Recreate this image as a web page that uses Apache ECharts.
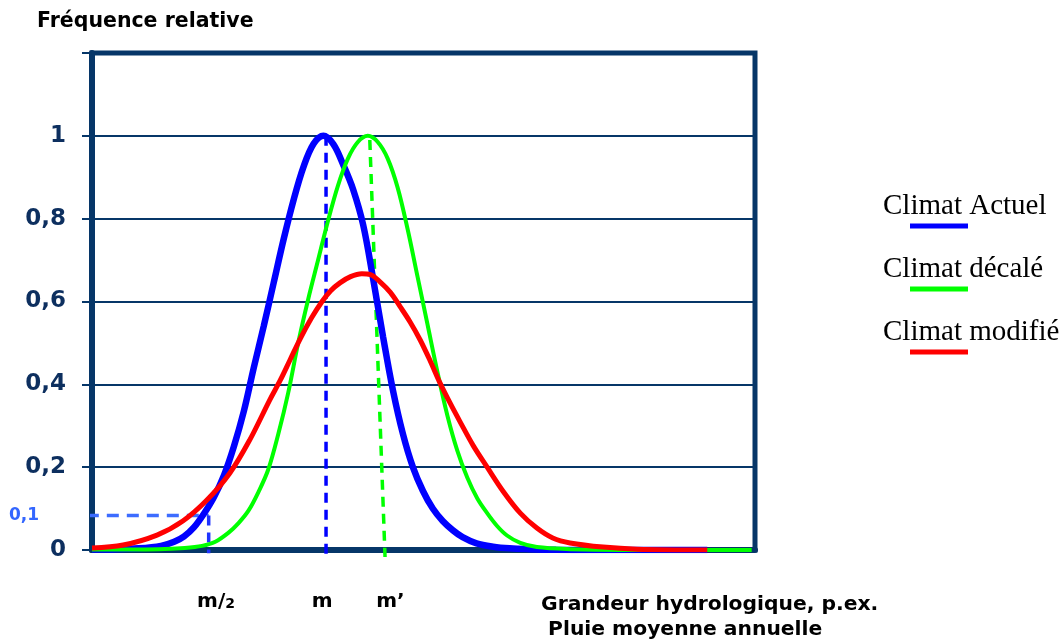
<!DOCTYPE html>
<html><head><meta charset="utf-8">
<script src="https://cdn.jsdelivr.net/npm/echarts@6/dist/echarts.min.js"></script>
<style>html,body{margin:0;padding:0;background:#fff}#c{width:1061px;height:641px}</style>
</head><body><div id="c"></div>
<script>
// ---- data (x in % of the horizontal span, y = relative frequency) ----
const seriesNames = ['Climat Actuel', 'Climat décalé', 'Climat modifié'];
const seriesColors = ['#0000ff', '#00ff00', '#ff0000'];
const blueData = [[0,0.001],[3,0.0015],[7,0.004],[10.4,0.01],[12.4,0.02],[13.9,0.033],[15.4,0.055],[16.9,0.088],[18.4,0.128],[19.9,0.18],[21.4,0.25],[22.9,0.335],[24.4,0.44],[25.9,0.54],[27.4,0.645],[28.9,0.75],[30.4,0.845],[31.9,0.925],[33.4,0.98],[34.9,1.0],[36.4,0.98],[37.9,0.93],[39.4,0.87],[40.9,0.785],[42.4,0.655],[43.9,0.515],[45.4,0.385],[46.9,0.28],[48.4,0.20],[49.9,0.143],[51.4,0.10],[52.9,0.07],[54.4,0.048],[55.9,0.031],[58,0.016],[60.5,0.008],[63,0.004],[66,0.002],[70,0.0005],[75,0],[92.8,0]];
const greenData = [[0,0.001],[10,0.002],[14,0.005],[16.6,0.01],[18.6,0.02],[20.6,0.042],[22.1,0.065],[23.6,0.095],[25.1,0.14],[26.6,0.195],[28.1,0.28],[29.6,0.38],[31.1,0.50],[32.6,0.605],[34.1,0.70],[35.6,0.795],[37.1,0.88],[38.6,0.945],[40.1,0.985],[41.6,1.0],[43.1,0.985],[44.6,0.945],[46.1,0.875],[47.6,0.775],[49.1,0.66],[50.6,0.545],[52.1,0.43],[53.6,0.325],[55.1,0.24],[56.6,0.175],[58.1,0.125],[59.6,0.089],[61.1,0.058],[62.6,0.035],[64.6,0.017],[67.1,0.007],[72.1,0.002],[79.6,0],[99.5,0]];
const redData = [[0,0.005],[4.7,0.012],[9.8,0.036],[13.7,0.07],[17.3,0.12],[20.8,0.186],[23.8,0.266],[26.8,0.362],[28.4,0.41],[29.9,0.46],[31.4,0.51],[33.1,0.56],[34.7,0.60],[36,0.626],[37.4,0.645],[39,0.66],[40.7,0.667],[42,0.665],[43.4,0.648],[45,0.622],[46.5,0.587],[48,0.55],[49.5,0.507],[51,0.457],[52.5,0.403],[54,0.355],[55.5,0.31],[57.5,0.252],[59.6,0.2],[62,0.142],[64.6,0.089],[67.1,0.053],[69.5,0.029],[72.1,0.017],[77.1,0.007],[82.2,0.002],[92.8,0]];
// reference (dashed) lines
const mLine = [[35.3,1.0],[35.3,-0.017]];
const mPrimeLine = [[41.9,0.99],[44.2,-0.017]];
const tenthHLine = [[-3.8,0.083],[17.6,0.083]];
const halfMLine = [[17.6,0.083],[17.6,-0.008]];
// tick labels
const yTickValues = [0,0.2,0.4,0.6,0.8,1,0.083];
const yTickLabels = ['0','0,2','0,4','0,6','0,8','1','{b|0,1}'];
const xTickValues = [18.7,34.7,45];
const xTickLabels = ['m/{s|2}','m','m’'];

const navy = '#063668';
const chart = echarts.init(document.getElementById('c'), null, {renderer:'canvas'});
const dashed = (data, color, dash, width) => ({
  type:'line', data, clip:false, symbol:'none', silent:true, z:1,
  lineStyle:{color, width, type:dash}
});
chart.setOption({
  animation:false,
  backgroundColor:'#fff',
  title:[
    {text:'Fréquence relative', left:37, top:11, padding:0, textStyle:{fontFamily:'DejaVu Sans', fontWeight:'bold', fontSize:20.5, color:'#000'}},
    {text:'Grandeur hydrologique, p.ex.\n Pluie moyenne annuelle', left:541, top:592, padding:0, textStyle:{fontFamily:'DejaVu Sans', fontWeight:'bold', fontSize:20.3, lineHeight:25, color:'#000'}}
  ],
  grid:{left:92, right:306, top:53, bottom:91, show:true, borderColor:navy, borderWidth:5, backgroundColor:'transparent'},
  xAxis:{type:'value', min:0, max:100,
    axisLine:{lineStyle:{color:navy, width:6}},
    axisTick:{show:false}, splitLine:{show:false},
    axisLabel:{customValues:xTickValues, margin:42,
      formatter:(v)=>{const i=xTickValues.indexOf(v);return i>=0?xTickLabels[i]:'';},
      fontFamily:'DejaVu Sans', fontWeight:'bold', fontSize:20, color:'#000',
      rich:{s:{fontFamily:'DejaVu Sans', fontWeight:'bold', fontSize:14, color:'#000', padding:[4,0,0,0]}}}
  },
  yAxis:{type:'value', min:0, max:1.2, interval:0.2,
    axisLine:{show:true, lineStyle:{color:navy, width:6}},
    axisTick:{show:true, length:10, lineStyle:{color:navy, width:2}},
    splitLine:{show:true, lineStyle:{color:navy, width:2}},
    axisLabel:{customValues:yTickValues, margin:26,
      formatter:(v)=>{const i=yTickValues.indexOf(v);return i>=0?yTickLabels[i]:'';},
      fontFamily:'DejaVu Sans', fontWeight:'bold', fontSize:23, color:'#0d2f5f',
      rich:{b:{fontFamily:'DejaVu Sans', fontWeight:'bold', fontSize:17, color:'#3366ff', padding:[0,27,0,0]}}}
  },
  series:[
    dashed(tenthHLine, '#3d6cff', [12,8], 3.5),
    dashed(halfMLine, '#1f33ff', [10,7], 3.5),
    dashed(mLine, '#0000ff', [10,7], 3.5),
    dashed(mPrimeLine, '#00ff00', [10,7], 3.5),
    {name:seriesNames[0], type:'line', data:blueData, smooth:0.35, symbol:'none', z:3, lineStyle:{color:seriesColors[0], width:6.5}},
    {name:seriesNames[1], type:'line', data:greenData, smooth:0.35, symbol:'none', z:4, lineStyle:{color:seriesColors[1], width:4}},
    {name:seriesNames[2], type:'line', data:redData, smooth:0.35, symbol:'none', z:5, lineStyle:{color:seriesColors[2], width:5}}
  ],
  graphic: seriesNames.map((n,i)=>({type:'group', left:883, top:192+i*63, children:[
    {type:'text', left:0, top:0, style:{text:n, font:'29px "Liberation Serif"', fill:'#000'}},
    {type:'rect', shape:{x:27, y:31.5, width:58, height:5}, style:{fill:seriesColors[i]}}
  ]}))
});
</script></body></html>
